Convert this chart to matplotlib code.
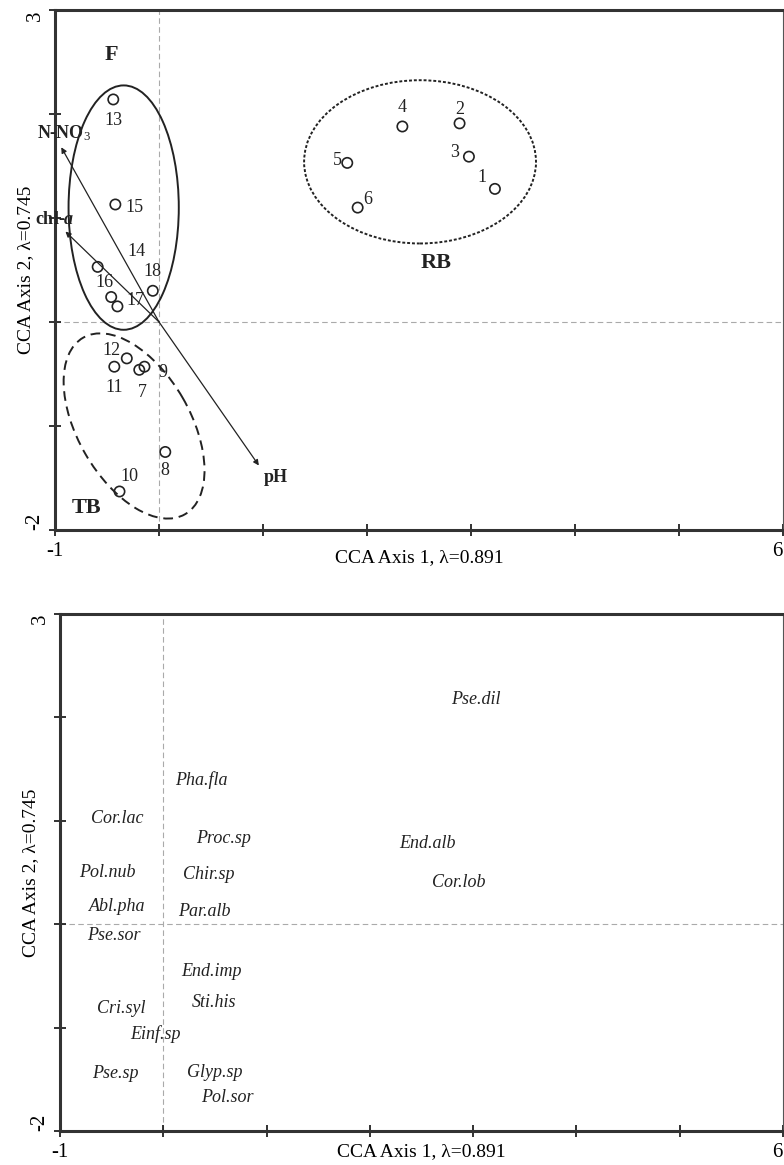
import numpy as np
import matplotlib
matplotlib.use("Agg")
import matplotlib.pyplot as plt
from matplotlib.patches import Ellipse

plt.rcParams['font.family'] = ['Liberation Serif', 'DejaVu Serif']
plt.rcParams['mathtext.fontset'] = 'custom'
plt.rcParams['mathtext.rm'] = 'Liberation Serif'
plt.rcParams['mathtext.bf'] = 'Liberation Serif:bold'
plt.rcParams['mathtext.it'] = 'Liberation Serif:italic'
plt.rcParams['mathtext.bfit'] = 'Liberation Serif:italic:bold'

# sites (top panel)
siteIds = ["13", "15", "16", "18", "14", "17", "12", "11", "9", "7", "8", "10",
           "4", "2", "3", "1", "5", "6"]
siteX = [-0.44, -0.42, -0.59, -0.06, -0.46, -0.40, -0.31, -0.43, -0.14, -0.19, 0.06, -0.38,
         2.34, 2.89, 2.98, 3.23, 1.81, 1.91]
siteY = [2.14, 1.13, 0.53, 0.30, 0.24, 0.15, -0.35, -0.43, -0.43, -0.46, -1.25, -1.63,
         1.88, 1.91, 1.59, 1.28, 1.53, 1.10]

# environmental arrows
envNames = ["N-NO$_3$", "chl-$\\mathbfit{a}$", "pH"]
envX = [-0.94, -0.90, 0.96]
envY = [1.68, 0.87, -1.38]

# species (bottom panel)
speciesNames = ["Pse.dil", "End.alb", "Cor.lob", "Pha.fla", "Cor.lac", "Proc.sp", "Pol.nub",
                "Chir.sp", "Abl.pha", "Par.alb", "Pse.sor", "End.imp", "Sti.his", "Cri.syl",
                "Einf.sp", "Pse.sp", "Glyp.sp", "Pol.sor"]
speciesX = [3.03, 2.56, 2.86, 0.37, -0.45, 0.58, -0.54, 0.44, -0.45, 0.40, -0.48, 0.47, 0.49,
            -0.41, -0.08, -0.46, 0.50, 0.62]
speciesY = [2.17, 0.78, 0.40, 1.39, 1.02, 0.83, 0.50, 0.48, 0.17, 0.12, -0.11, -0.46, -0.76,
            -0.82, -1.06, -1.44, -1.43, -1.68]

# label offsets for site numbers, in points
labelOffsets = {"13": (0, -15), "15": (14, -2), "16": (5, -11), "18": (0, 14), "14": (18, 33),
                "17": (13, 4), "12": (-11, 6), "11": (0, -15), "9": (13, -4), "7": (2, -16),
                "8": (0, -13), "10": (7, 11), "4": (0, 14), "2": (0, 10), "3": (-10, 3),
                "1": (-9, 8), "5": (-7, 2), "6": (7, 6)}


def styleAxes(ax, xlabelPad):
    ax.set_xlim(-1, 6)
    ax.set_ylim(-2, 3)
    ax.set_xticks(range(-1, 7))
    ax.set_xticklabels(["-1", "", "", "", "", "", "", "6"], fontsize=15)
    ax.get_xticklabels()[-1].set_ha("right")
    ax.set_yticks(range(-2, 4))
    ax.set_yticklabels(["-2", "", "", "", "", "3"], fontsize=15, rotation=90)
    ax.get_yticklabels()[0].set_va("bottom")
    ax.get_yticklabels()[-1].set_va("top")
    ax.tick_params(direction="inout", length=8, width=1.3, color="#222222")
    ax.tick_params(axis="x", pad=5)
    for side in ["left", "bottom", "top"]:
        ax.spines[side].set_linewidth(2.2)
        ax.spines[side].set_color("#333333")
    ax.spines["right"].set_linewidth(0.8)
    ax.spines["right"].set_color("#555555")
    ax.axhline(0, color="#aaaaaa", ls=(0, (5, 3)), lw=0.8, zorder=0)
    ax.axvline(0, color="#aaaaaa", ls=(0, (5, 3)), lw=0.8, zorder=0)
    ax.set_xlabel("CCA Axis 1, λ=0.891", fontsize=14, labelpad=xlabelPad)
    ax.set_ylabel("CCA Axis 2, λ=0.745", fontsize=14, labelpad=-6)


fig = plt.figure(figsize=(7.84, 11.65), dpi=100)

ax1 = fig.add_axes([0.0702, 0.5451, 0.9285, 0.4463])
styleAxes(ax1, -9)

ax1.scatter(siteX, siteY, s=55, facecolors="none", edgecolors="#222222", linewidths=1.2, zorder=3)
for i, name in enumerate(siteIds):
    ax1.annotate(name, (siteX[i], siteY[i]), xytext=labelOffsets[name], textcoords="offset points",
                 ha="center", va="center", fontsize=13, color="#222222")

for i, name in enumerate(envNames):
    ax1.annotate("", xy=(envX[i], envY[i]), xytext=(0, 0),
                 arrowprops=dict(arrowstyle="-|>", lw=0.9, color="#222222", mutation_scale=8,
                                 shrinkA=0, shrinkB=0))
envLabelOffsets = [(2, 10), (-8, 9), (12, -9)]
for i, name in enumerate(envNames):
    ax1.annotate(name, (envX[i], envY[i]), xytext=envLabelOffsets[i], textcoords="offset points",
                 ha="center", va="center", fontsize=13, fontweight="bold", color="#222222")

ax1.add_patch(Ellipse((-0.34, 1.10), 1.06, 2.35, angle=0, fill=False, lw=1.4, ec="#222222"))
ax1.add_patch(Ellipse((-0.24, -1.0), 1.96, 1.08, angle=120, fill=False, lw=1.4, ec="#222222",
                      ls=(0, (5, 3))))
ax1.add_patch(Ellipse((2.51, 1.54), 2.23, 1.57, angle=0, fill=False, lw=1.4, ec="#222222",
                      ls=(0, (1.5, 1))))

ax1.text(-0.46, 2.57, "F", fontsize=16, fontweight="bold", ha="center", va="center", color="#222222")
ax1.text(-0.70, -1.79, "TB", fontsize=16, fontweight="bold", ha="center", va="center", color="#222222")
ax1.text(2.66, 0.57, "RB", fontsize=16, fontweight="bold", ha="center", va="center", color="#222222")

ax2 = fig.add_axes([0.0765, 0.0292, 0.9222, 0.4438])
styleAxes(ax2, -14)
for i, name in enumerate(speciesNames):
    ax2.text(speciesX[i], speciesY[i], name, fontsize=13, style="italic", ha="center", va="center",
             color="#222222")

fig.savefig("out.png", dpi=100)
